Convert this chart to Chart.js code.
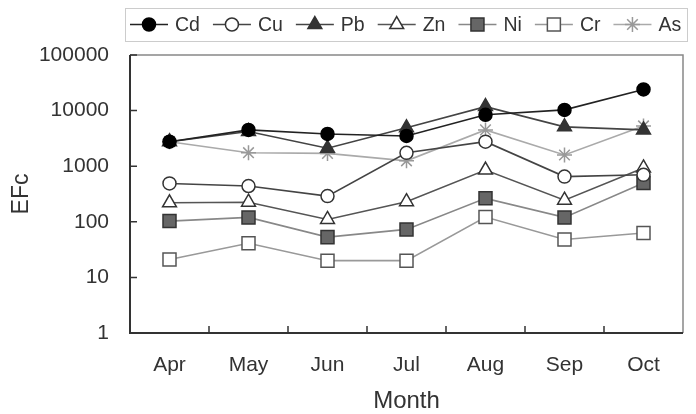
<!DOCTYPE html>
<html>
<head>
<meta charset="utf-8">
<script src="https://cdn.jsdelivr.net/npm/chart.js@4"></script>
<style>
  html, body { margin: 0; padding: 0; background: #fff; }
  #wrap { width: 696px; height: 414px; }
</style>
</head>
<body>
<div id="wrap"><canvas id="efc-chart" width="696" height="414"></canvas></div>
<script>
const months = ['Apr', 'May', 'Jun', 'Jul', 'Aug', 'Sep', 'Oct'];
const yTicks = [1, 10, 100, 1000, 10000, 100000];

const cd = [2760, 4500, 3800, 3500, 8400, 10300, 24000];
const cu = [490, 440, 290, 1740, 2760, 650, 700];
const pb = [2760, 4200, 2100, 4900, 11800, 5100, 4500];
const zn = [220, 225, 110, 230, 850, 245, 930];
const ni = [103, 120, 53, 73, 264, 120, 500];
const cr = [21, 41, 20, 20, 122, 48, 63];
const as = [2760, 1750, 1700, 1250, 4500, 1590, 5300];

const FONT = "'Liberation Sans', Arial, sans-serif";
const TXT = '#333';

const mk = (label, data, line, style, fill, stroke, radius) => ({
    label: label,
    data: data,
    borderColor: line,
    borderWidth: 1.6,
    pointStyle: style,
    pointRadius: radius,
    pointHoverRadius: radius,
    pointBackgroundColor: fill,
    pointBorderColor: stroke,
    pointBorderWidth: 1.5,
    tension: 0
});

const datasets = [
    mk('Cd', cd, '#222', 'circle', '#000', '#000', 6.5),
    mk('Cu', cu, '#444', 'circle', '#fff', '#333', 6.5),
    mk('Pb', pb, '#444', 'triangle', '#333', '#333', 8),
    mk('Zn', zn, '#555', 'triangle', '#fff', '#333', 8),
    mk('Ni', ni, '#888', 'rect', '#666', '#333', 9.2),
    mk('Cr', cr, '#999', 'rect', '#fff', '#555', 9.2),
    mk('As', as, '#aaa', 'star', '#999', '#999', 7.5)
];

// frame with inward tick marks, plus the boxed legend on top
const framePlugin = {
    id: 'frame',
    beforeDatasetsDraw(chart) {
        const { ctx, chartArea: a, scales } = chart;
        ctx.save();
        ctx.strokeStyle = '#888';
        ctx.lineWidth = 1.5;
        ctx.beginPath();
        ctx.moveTo(a.left, a.top);
        ctx.lineTo(a.right, a.top);
        ctx.lineTo(a.right, a.bottom);
        ctx.stroke();
        ctx.strokeStyle = '#333';
        ctx.lineWidth = 2;
        ctx.beginPath();
        ctx.moveTo(a.left, a.top);
        ctx.lineTo(a.left, a.bottom);
        ctx.lineTo(a.right, a.bottom);
        ctx.stroke();
        ctx.lineWidth = 1.5;
        ctx.beginPath();
        yTicks.forEach(v => {
            const y = scales.y.getPixelForValue(v);
            ctx.moveTo(a.left, y);
            ctx.lineTo(a.left + 7, y);
        });
        const step = scales.x.getPixelForValue(1) - scales.x.getPixelForValue(0);
        for (let i = 1; i < months.length; i++) {
            const x = scales.x.getPixelForValue(i) - step / 2;
            ctx.moveTo(x, a.bottom);
            ctx.lineTo(x, a.bottom - 7);
        }
        ctx.stroke();
        ctx.restore();
    },
    afterDraw(chart) {
        const ctx = chart.ctx;
        const cy = 24.5;
        ctx.save();
        ctx.strokeStyle = '#ccc';
        ctx.lineWidth = 1;
        ctx.strokeRect(125.5, 8.5, 562, 33);
        ctx.font = '19.5px ' + FONT;
        ctx.textBaseline = 'middle';
        let x = 130;
        chart.data.datasets.forEach(ds => {
            ctx.strokeStyle = ds.borderColor;
            ctx.lineWidth = 1.6;
            ctx.beginPath();
            ctx.moveTo(x, cy);
            ctx.lineTo(x + 38, cy);
            ctx.stroke();
            ctx.fillStyle = ds.pointBackgroundColor;
            ctx.strokeStyle = ds.pointBorderColor;
            ctx.lineWidth = ds.pointBorderWidth;
            Chart.helpers.drawPoint(ctx, {
                pointStyle: ds.pointStyle,
                radius: ds.pointRadius,
                rotation: 0,
                borderWidth: ds.pointBorderWidth
            }, x + 19, cy);
            ctx.fillStyle = TXT;
            ctx.fillText(ds.label, x + 45, cy + 1);
            x += 45 + ctx.measureText(ds.label).width + 13;
        });
        ctx.restore();
    }
};

new Chart(document.getElementById('efc-chart'), {
    type: 'line',
    data: { labels: months, datasets: datasets },
    plugins: [framePlugin],
    options: {
        responsive: false,
        animation: false,
        layout: { padding: { top: 55, right: 13, left: 0, bottom: 0 } },
        plugins: { legend: { display: false }, tooltip: { enabled: false } },
        scales: {
            x: {
                offset: true,
                grid: { display: false, drawTicks: false },
                border: { display: false },
                ticks: { color: TXT, font: { family: FONT, size: 21 }, padding: 20, maxRotation: 0 },
                title: { display: true, text: 'Month', color: TXT, font: { family: FONT, size: 24, lineHeight: 1 }, padding: { top: 0, bottom: 1 } },
                afterFit(scale) { scale.height = 81; }
            },
            y: {
                type: 'logarithmic',
                min: 1,
                max: 100000,
                grid: { display: false, drawTicks: false },
                border: { display: false },
                afterBuildTicks(scale) { scale.ticks = yTicks.map(v => ({ value: v })); },
                ticks: { color: TXT, font: { family: FONT, size: 21 }, padding: 21, callback: v => String(v) },
                title: { display: true, text: 'EFc', color: TXT, font: { family: FONT, size: 23, lineHeight: 1 }, padding: { top: 10, bottom: 0 } },
                afterFit(scale) { scale.width = 130; }
            }
        }
    }
});
</script>
</body>
</html>
